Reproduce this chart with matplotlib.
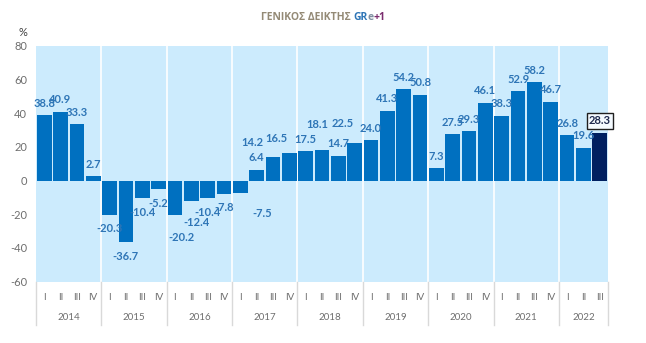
import matplotlib
matplotlib.use("Agg")
import matplotlib.pyplot as plt
from matplotlib.transforms import blended_transform_factory

years = ["2014", "2015", "2016", "2017", "2018", "2019", "2020", "2021", "2022"]
quarters = ["I", "II", "III", "IV"]
values = [
    38.8, 40.9, 33.3, 2.7,
    -20.3, -36.7, -10.4, -5.2,
    -20.2, -12.4, -10.4, -7.8,
    -7.5, 6.4, 14.2, 16.5,
    17.5, 18.1, 14.7, 22.5,
    24.0, 41.3, 54.2, 50.8,
    7.3, 27.5, 29.3, 46.1,
    38.3, 52.9, 58.2, 46.7,
    26.8, 19.6, 28.3,
]
yticks = [80, 60, 40, 20, 0, -20, -40, -60]

# label placement nudges (pixels) to mimic the reference's label layout
label_nudge = {8: (7, -9), 9: (5, -7), 12: (22, -6), 14: (-21, 2),
               15: (-13, 2), 17: (-5, 14), 19: (-12, 7)}

plt.rcParams['font.family'] = ['Lato', 'DejaVu Sans']

W, H = 646, 343
fig = plt.figure(figsize=(W / 100, H / 100), dpi=100)
left, right, top, bottom = 36, 608, 45.7, 281.7
ax = fig.add_axes([left / W, 1 - bottom / H, (right - left) / W, (bottom - top) / H])
ax.set_facecolor('#CCEBFD')

n = len(values)
xs = list(range(n))
colors = ['#0070C0'] * n
colors[-1] = '#002060'
ax.bar(xs, values, width=0.9, color=colors, zorder=3)

ax.set_xlim(-0.5, n - 0.5)
ax.set_ylim(-60, 80)
ax.set_yticks(yticks)
ax.set_yticklabels([str(v) for v in yticks], color='#6E6E6E', fontsize=8)
ax.tick_params(axis='y', length=0, pad=6.5)
ax.set_xticks([])
for s in ax.spines.values():
    s.set_visible(False)

# year separators
for i in range(1, len(years)):
    ax.axvline(i * 4 - 0.5, color='white', lw=1.2, zorder=2)

# category axis labels
trans = blended_transform_factory(ax.transData, fig.transFigure)
y_q = 1 - 297 / H
y_y = 1 - 317 / H
for i in range(n):
    ax.text(i, y_q, quarters[i % 4], transform=trans, ha='center', va='center',
            fontsize=7, color='#6E6E6E', clip_on=False)
for yi, yr in enumerate(years):
    start = yi * 4
    end = min(start + 3, n - 1)
    ax.text((start + end) / 2, y_y, yr, transform=trans, ha='center', va='center',
            fontsize=7, color='#6E6E6E', clip_on=False)
for i in range(len(years) + 1):
    xb = min(i * 4, n) - 0.5
    ax.plot([xb, xb], [1 - bottom / H, 1 - 325 / H], transform=trans,
            color='#D9D9D9', lw=1, clip_on=False)

# value labels
for i, v in enumerate(values):
    last = (i == n - 1)
    dx, dy = label_nudge.get(i, (0, 0))
    base = 12 if v >= 0 else -14
    kw = {}
    if last:
        kw['bbox'] = dict(boxstyle='square,pad=0.2', fc='#F4FAFF', ec='#1F1F1F', lw=1)
    ax.annotate(f"{v:.1f}", (i, v), xytext=(dx, base + dy), textcoords='offset pixels',
                ha='center', va='center', fontsize=8, fontweight='bold',
                color='#1F2A4F' if last else '#2E75B6', zorder=5, **kw)

# percent sign
fig.text(23 / W, 1 - 33 / H, '%', fontsize=8, color='#404040', ha='center', va='center')

# title (multi-coloured, centred)
tfont = dict(family=['Open Sans', 'DejaVu Sans'], fontsize=7.5, fontweight='bold')
parts = [('ΓΕΝΙΚΟΣ ΔΕΙΚΤΗΣ ', '#948A76'), ('GR', '#2E75B6'), ('e', '#7F8FA0'), ('+1', '#7B2C6E')]
r = fig.canvas.get_renderer()
full = ''.join(p for p, _ in parts)
probe = fig.text(0, 0, full, **tfont)
total_w = probe.get_window_extent(r).width
probe.remove()
x0 = 0.5 * W - total_w / 2
prefix = ''
for part, col in parts:
    if prefix:
        pt = fig.text(0, 0, prefix + '|', **tfont)
        bar_t = fig.text(0, 0, '|', **tfont)
        w = pt.get_window_extent(r).width - bar_t.get_window_extent(r).width
        pt.remove(); bar_t.remove()
    else:
        w = 0
    fig.text((x0 + w) / W, 1 - 18 / H, part, color=col, ha='left', va='center', **tfont)
    prefix += part

fig.savefig('out.png', dpi=100)
